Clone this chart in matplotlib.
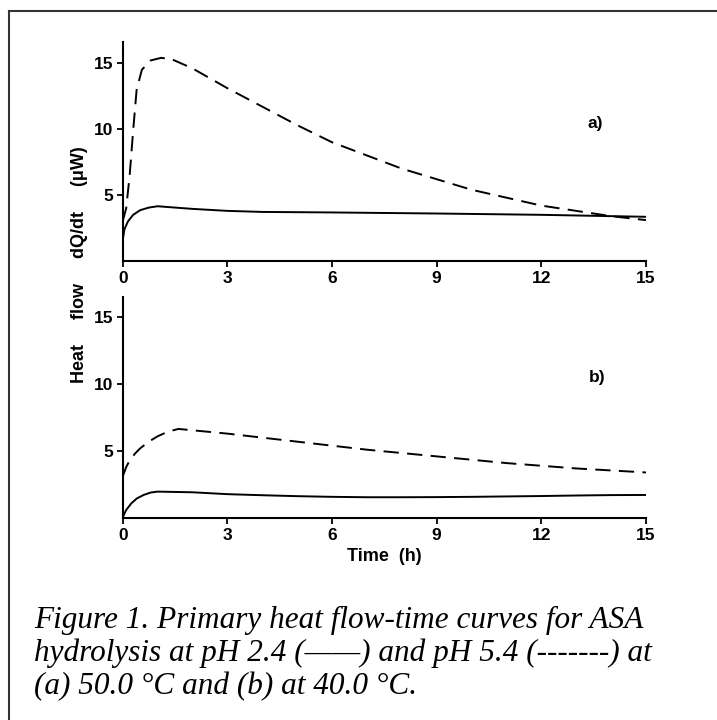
import matplotlib
matplotlib.use("Agg")
import matplotlib.pyplot as plt
from matplotlib.lines import Line2D

plt.rcParams['font.family'] = ['Liberation Sans', 'DejaVu Sans']
plt.rcParams['lines.scale_dashes'] = False

# panel a) 50.0 C
t_a_solid = [0, 0.05, 0.15, 0.3, 0.5, 0.75, 1.0, 1.5, 2, 3, 4, 6, 9, 12, 15]
q_a_solid = [1.6, 2.4, 3.0, 3.5, 3.85, 4.05, 4.15, 4.05, 3.95, 3.8, 3.72, 3.68, 3.6, 3.5, 3.35]
t_a_dash = [0, 0.1, 0.2, 0.3, 0.4, 0.55, 0.8, 1.1, 1.4, 2, 3, 4, 5, 6, 7, 8, 9, 10, 11, 12, 13, 14, 15]
q_a_dash = [3.0, 4.0, 6.5, 9.9, 13.0, 14.5, 15.2, 15.4, 15.3, 14.6, 13.1, 11.7, 10.3, 9.0, 8.0,
            7.0, 6.2, 5.4, 4.8, 4.2, 3.8, 3.4, 3.1]

# panel b) 40.0 C
t_b_solid = [0, 0.1, 0.25, 0.4, 0.6, 0.8, 1.0, 2, 3, 4, 5, 6, 7, 8, 9, 10, 12, 13, 14, 15]
q_b_solid = [0.05, 0.6, 1.1, 1.45, 1.72, 1.9, 1.97, 1.92, 1.78, 1.7, 1.63, 1.58, 1.55, 1.55,
             1.56, 1.58, 1.64, 1.68, 1.71, 1.72]
t_b_dash = [0, 0.1, 0.2, 0.35, 0.5, 0.75, 1.0, 1.3, 1.6, 2, 3, 4, 5, 6, 7, 8, 9, 10, 11, 12, 13, 14, 15]
q_b_dash = [3.1, 3.8, 4.3, 4.8, 5.2, 5.7, 6.1, 6.45, 6.65, 6.55, 6.3, 6.0, 5.7, 5.4, 5.1, 4.85,
            4.6, 4.35, 4.1, 3.9, 3.7, 3.55, 3.4]

xticks = [0, 3, 6, 9, 12, 15]
yticks = [5, 10, 15]

caption = ["Figure 1. Primary heat flow-time curves for ASA",
           "hydrolysis at pH 2.4 (\u2014\u2014) and pH 5.4 (-------) at",
           "(a) 50.0 \u00b0C and (b) at 40.0 \u00b0C."]

fig = plt.figure(figsize=(7.17, 7.2), dpi=100)
W, H = 717.0, 720.0

def make_axes(top_px, bottom_px, ymax):
    ax = fig.add_axes([122.7 / W, 1 - bottom_px / H, (646 - 122.7) / W, (bottom_px - top_px) / H])
    ax.set_xlim(0, 15)
    ax.set_ylim(0, ymax)
    for s in ['top', 'right']:
        ax.spines[s].set_visible(False)
    for s in ['left', 'bottom']:
        ax.spines[s].set_linewidth(1.5)
    ax.set_xticks(xticks)
    ax.set_yticks(yticks)
    ax.tick_params(direction='out', length=4, width=1.3, labelsize=12.5, pad=3)
    for lab in ax.get_xticklabels() + ax.get_yticklabels():
        lab.set_fontweight('bold')
    ax.patch.set_visible(False)
    return ax

ax1 = make_axes(42, 261, 16.6)
ax1.plot(t_a_solid, q_a_solid, color='black', lw=1.4)
ax1.plot(t_a_dash, q_a_dash, color='black', lw=1.4, dashes=(11, 6))
ax1.text(13.55, 10.4, 'a)', fontsize=12.5, fontweight='bold', ha='center', va='center')

ax2 = make_axes(297, 518, 16.5)
ax2.plot(t_b_solid, q_b_solid, color='black', lw=1.4)
ax2.plot(t_b_dash, q_b_dash, color='black', lw=1.4, dashes=(11, 6))
ax2.text(13.6, 10.5, 'b)', fontsize=12.5, fontweight='bold', ha='center', va='center')
ax2.set_xlabel('Time  (h)', fontsize=13, fontweight='bold', labelpad=4)

fig.text(79 / W, 1 - 265 / H, 'Heat     flow     dQ/dt     (\u03bcW)', rotation=90,
         fontsize=13, fontweight='bold', ha='center', va='center')

# frame around figure
fig.add_artist(Line2D([9 / W, 1.0], [1 - 11 / H, 1 - 11 / H], color='#333333', lw=1.5))
fig.add_artist(Line2D([9 / W, 9 / W], [1 - 11 / H, 0.0], color='#333333', lw=1.5))

for i, line in enumerate(caption):
    fig.text(34 / W, 1 - (628 + 33 * i) / H, line, fontsize=22.5, style='italic',
             family=['Liberation Serif', 'DejaVu Serif'], ha='left', va='baseline')

fig.savefig('out.png', dpi=100)
